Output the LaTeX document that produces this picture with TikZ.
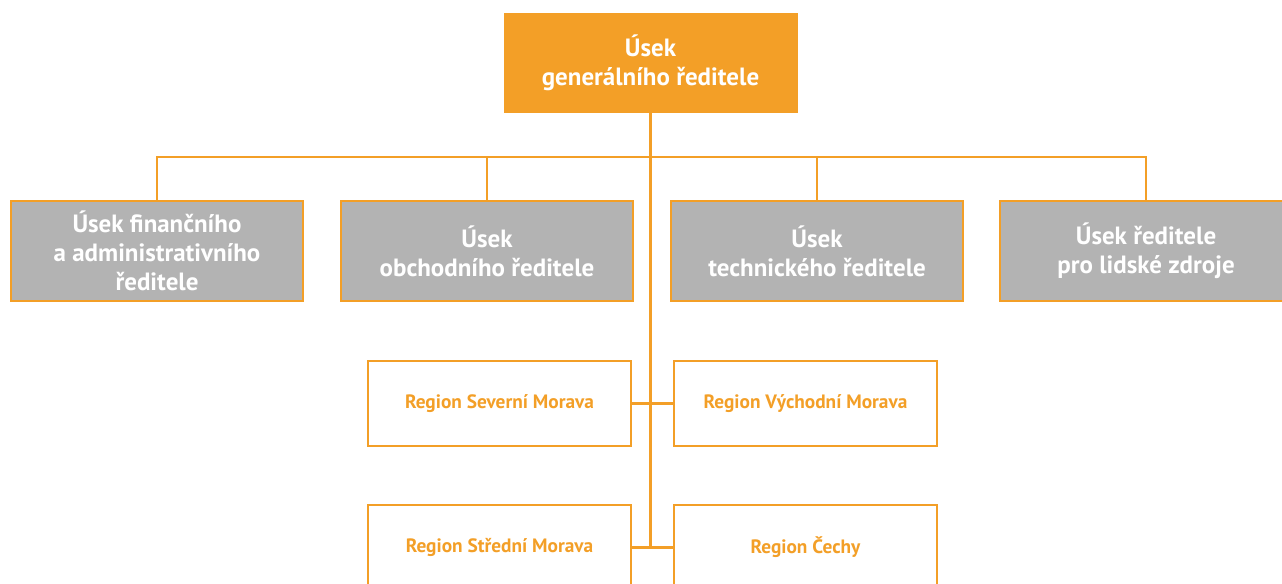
\documentclass[tikz,border=0pt]{standalone}
\usepackage{fontspec}
\setmainfont{PT Sans}
\definecolor{oranzova}{RGB}{243,159,39}
\definecolor{seda}{RGB}{179,179,179}

\begin{document}
\begin{tikzpicture}[line cap=rect,line join=miter,
  spoj/.style={draw=oranzova,line width=1.3pt},
  hlavni/.style={fill=oranzova,draw=oranzova,text=white,font=\bfseries\fontsize{14.2}{16.5}\selectfont,
    align=center,minimum width=5.86cm,minimum height=1.98cm,inner sep=0pt},
  usek/.style={fill=seda,draw=oranzova,line width=1.3pt,text=white,font=\bfseries\fontsize{14.2}{16.5}\selectfont,
    align=center,minimum width=5.84cm,minimum height=2.0cm,inner sep=0pt},
  region/.style={fill=white,draw=oranzova,line width=1.3pt,text=oranzova,font=\bfseries\fontsize{11}{13}\selectfont,
    minimum width=5.26cm,minimum height=1.70cm,inner sep=0pt}]
  \useasboundingbox (0,0) rectangle (25.64,-11.66);
  % vedeni spolecnosti
  \node[hlavni] (gen) at (13.01,-1.25) {Úsek\\generálního ředitele};
  % useky
  \node[usek] (fin) at (3.14,-5.02) {Úsek finančního\\a administrativního\\ředitele};
  \node[usek] (obch) at (9.74,-5.02) {Úsek\\obchodního ředitele};
  \node[usek] (tech) at (16.34,-5.02) {Úsek\\technického ředitele};
  \node[usek] (lz) at (22.92,-5.02) {Úsek ředitele\\pro lidské zdroje};
  % regiony
  \node[region] (sm) at (9.99,-8.07) {Region Severní Morava};
  \node[region] (vm) at (16.11,-8.07) {Region Východní Morava};
  \node[region] (stm) at (9.99,-10.95) {Region Střední Morava};
  \node[region] (ce) at (16.11,-10.95) {Region Čechy};
  % spojnice
  \coordinate (sbernice) at (0,-3.14);
  \draw[spoj] (fin.north) -- (fin.north |- sbernice) -- (lz.north |- sbernice) -- (lz.north);
  \draw[spoj] (obch.north) -- (obch.north |- sbernice);
  \draw[spoj] (tech.north) -- (tech.north |- sbernice);
  \draw[spoj] (sm.east) -- (vm.west);
  \draw[spoj] (stm.east) -- (ce.west);
  \draw[spoj] (gen.south) -- (gen.south |- stm.east);
\end{tikzpicture}
\end{document}
